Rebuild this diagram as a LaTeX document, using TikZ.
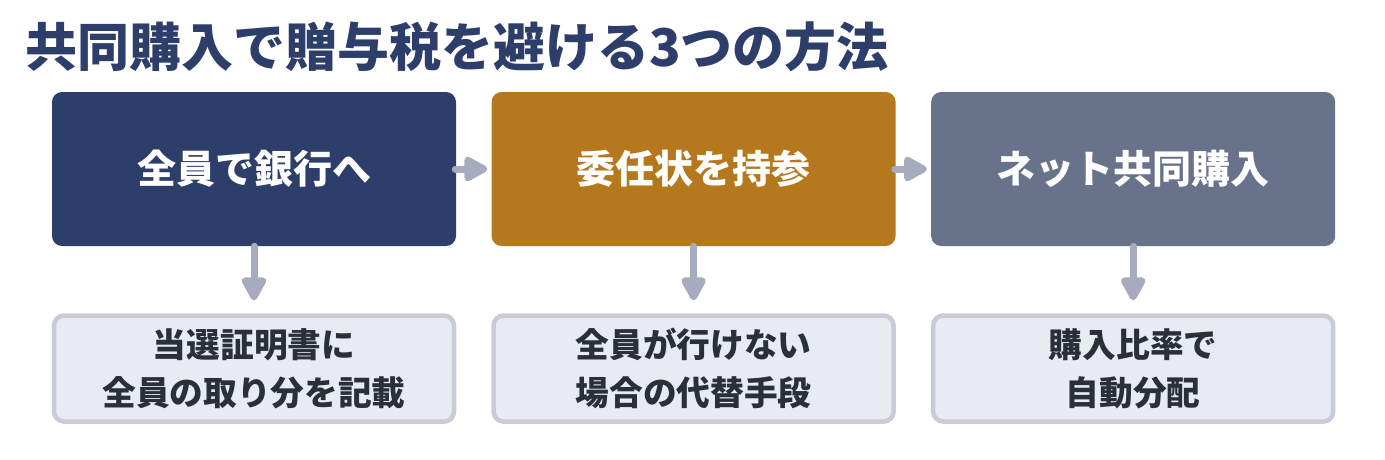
\documentclass[tikz,border=0pt]{standalone}
\usepackage{fontspec}
\newfontfamily\jpfont{Noto Sans CJK JP}
\usetikzlibrary{positioning}
\usetikzlibrary{arrows.meta}

\definecolor{navy}{HTML}{2D3E6B}
\definecolor{ochre}{HTML}{B5781C}
\definecolor{slate}{HTML}{68728A}
\definecolor{noteback}{HTML}{E9EBF3}
\definecolor{noteline}{HTML}{C9CCD8}
\definecolor{flowgray}{HTML}{A6ABBD}
\definecolor{notetext}{HTML}{2B2F3A}

\begin{document}
\begin{tikzpicture}[x=1pt, y=1pt, node distance=35pt, semithick]

%====Box styles================================================
	\tikzstyle{step box}=[rectangle, rounded corners=10pt, draw=none, text=white, inner sep=0pt,
		minimum width=404pt, minimum height=154pt, font=\jpfont\bfseries\fontsize{39}{47}\selectfont]
	\tikzstyle{note box}=[rectangle, rounded corners=10pt, fill=noteback, draw=noteline, line width=4.5pt,
		text=notetext, inner sep=0pt, minimum width=400pt, minimum height=106pt, align=center,
		font=\jpfont\bfseries\fontsize{33.7}{48}\selectfont]
	\tikzstyle{flow}=[-{Triangle[length=27pt, width=27pt, round]}, line width=7pt, line cap=round, flowgray]

	\useasboundingbox (0,0) rectangle (1385,-459);

%====Title=====================================================
	\node[anchor=west, inner sep=0pt, text=navy, font=\jpfont\bfseries\fontsize{52}{60}\selectfont]
		(titolo) at (25,-47) {共同購入で贈与税を避ける3つの方法};

%====Steps and notes===========================================
	\node[step box, fill=navy]            (banca)   at (254,-169)     {全員で銀行へ};
	\node[step box, fill=ochre]           (delega)  [right=of banca]  {委任状を持参};
	\node[step box, fill=slate]           (online)  [right=of delega] {ネット共同購入};

	\node[note box] (notaBanca)  [below=67pt of banca]  {当選証明書に\\全員の取り分を記載};
	\node[note box] (notaDelega) [below=67pt of delega] {全員が行けない\\場合の代替手段};
	\node[note box] (notaOnline) [below=67pt of online] {購入比率で\\自動分配};

%====Arrows====================================================
	%from       style                                        to
	\path[flow]
		(banca)   edge [shorten <=-1pt, shorten >=4pt]          (delega)
		(delega)  edge [shorten <=-1pt, shorten >=4pt]          (online)
		(banca)   edge [shorten >=13pt]                         (notaBanca)
		(delega)  edge [shorten >=13pt]                         (notaDelega)
		(online)  edge [shorten >=13pt]                         (notaOnline);
\end{tikzpicture}
\end{document}
